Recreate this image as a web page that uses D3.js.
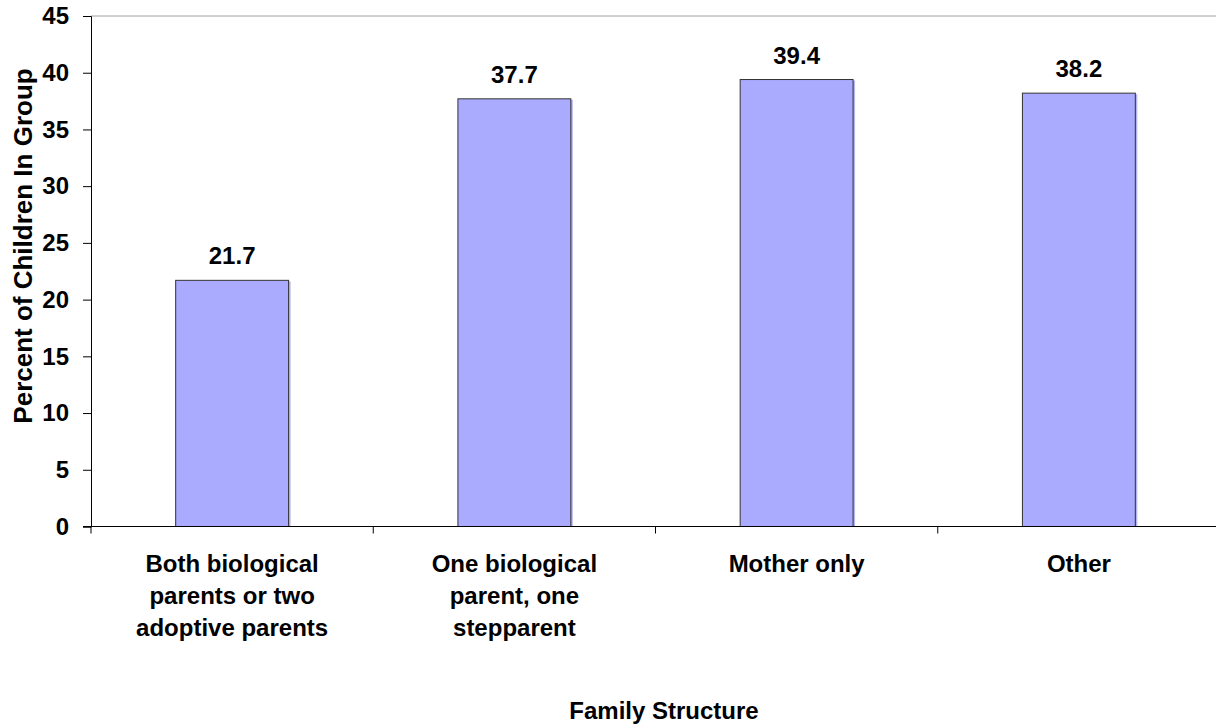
<!DOCTYPE html>
<html>
<head>
<meta charset="utf-8">
<script src="https://cdn.jsdelivr.net/npm/d3@7"></script>
<style>
  body { margin: 0; background: #fff; }
  svg { display: block; font-family: "Liberation Sans", Arial, sans-serif; font-weight: bold; }
</style>
</head>
<body>
<svg width="1216" height="727"></svg>
<script>
var categories = [
  ["Both biological", "parents or two", "adoptive parents"],
  ["One biological", "parent, one", "stepparent"],
  ["Mother only"],
  ["Other"]
];
var values = [21.7, 37.7, 39.4, 38.2];
var yTicks = [0, 5, 10, 15, 20, 25, 30, 35, 40, 45];

var svg = d3.select("svg");

var margin = { top: 16, left: 91 };
var plotWidth = 1129;   // runs a little past the window edge, as in the original
var plotHeight = 510.5;

var keys = categories.map(function(d) { return d.join(" "); });

var xScale = d3.scaleBand()
  .domain(keys)
  .range([0, plotWidth])
  .paddingInner(0.6)
  .paddingOuter(0.3);

var bandScale = d3.scaleBand().domain(keys).range([0, plotWidth]);

var yScale = d3.scaleLinear()
  .domain([0, 45])
  .range([plotHeight, 0]);

var plot = svg.append("g")
  .attr("transform", "translate(" + margin.left + "," + margin.top + ")");

// top border
plot.append("line")
  .attr("x1", 0).attr("x2", plotWidth)
  .attr("y1", 0).attr("y2", 0)
  .attr("stroke", "#a0a0a0");

// faint shadow on the right side of each bar
plot.selectAll("rect.shadow")
  .data(values)
  .enter().append("rect")
  .attr("class", "shadow")
  .attr("x", function(d, i) { return xScale(keys[i]) + 2; })
  .attr("y", function(d) { return yScale(d) + 1; })
  .attr("width", xScale.bandwidth())
  .attr("height", function(d) { return plotHeight - yScale(d) - 1; })
  .attr("fill", "#b4b4f0");

// bars
plot.selectAll("rect.bar")
  .data(values)
  .enter().append("rect")
  .attr("class", "bar")
  .attr("x", function(d, i) { return xScale(keys[i]); })
  .attr("y", function(d) { return yScale(d); })
  .attr("width", xScale.bandwidth())
  .attr("height", function(d) { return plotHeight - yScale(d); })
  .attr("fill", "#aaaaff")
  .attr("stroke", "#333")
  .attr("stroke-width", 1);

// value labels
plot.selectAll("text.val")
  .data(values)
  .enter().append("text")
  .attr("class", "val")
  .attr("x", function(d, i) { return xScale(keys[i]) + xScale.bandwidth() / 2; })
  .attr("y", function(d) { return yScale(d) - 16; })
  .attr("text-anchor", "middle")
  .style("font-size", "24px")
  .text(function(d) { return d.toFixed(1); });

// y axis
var yAxis = d3.axisLeft(yScale).tickValues(yTicks).tickSize(8).tickPadding(14);
var yGroup = plot.append("g").call(yAxis);
yGroup.select(".domain").attr("stroke", "#000");
yGroup.selectAll("text")
  .style("font-size", "24px")
  .style("font-weight", "bold")
  .style("font-family", "Liberation Sans, Arial, sans-serif")
  .attr("fill", "#000");

// x axis line and ticks between categories
var xGroup = plot.append("g").attr("transform", "translate(0," + plotHeight + ")");
xGroup.append("line")
  .attr("x1", -8).attr("x2", plotWidth)
  .attr("stroke", "#000");
xGroup.selectAll("line.tick")
  .data(keys)
  .enter().append("line")
  .attr("class", "tick")
  .attr("x1", function(d) { return bandScale(d); })
  .attr("x2", function(d) { return bandScale(d); })
  .attr("y1", 0).attr("y2", 7)
  .attr("stroke", "#000");

// category labels
var labels = xGroup.selectAll("text.cat")
  .data(categories)
  .enter().append("text")
  .attr("class", "cat")
  .attr("text-anchor", "middle")
  .style("font-size", "24px")
  .attr("transform", function(d, i) {
    return "translate(" + (bandScale(keys[i]) + bandScale.bandwidth() / 2) + ",45)";
  });
labels.selectAll("tspan")
  .data(function(d) { return d; })
  .enter().append("tspan")
  .attr("x", 0)
  .attr("y", function(d, i) { return i * 32; })
  .text(function(d) { return d; });

// axis titles
svg.append("text")
  .attr("x", 664)
  .attr("y", 719)
  .attr("text-anchor", "middle")
  .style("font-size", "24px")
  .text("Family Structure");

svg.append("text")
  .attr("transform", "translate(32,246) rotate(-90)")
  .attr("text-anchor", "middle")
  .style("font-size", "26px")
  .text("Percent of Children In Group");
</script>
</body>
</html>
